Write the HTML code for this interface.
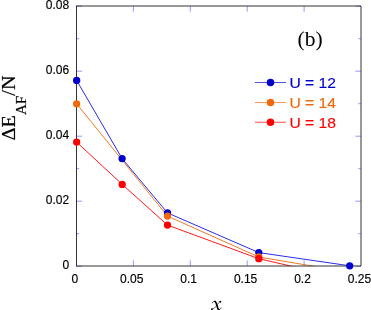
<!DOCTYPE html>
<html><head><meta charset="utf-8"><title>plot</title>
<style>html,body{margin:0;padding:0;background:#fff;}svg{display:block;will-change:transform;}</style>
</head><body>
<svg width="371" height="310" viewBox="0 0 371 310">
<rect x="0" y="0" width="371" height="310" fill="#fff"/>
<path d="M133.40 266.0 v-5.7 M133.40 6.0 v5.7 M190.30 266.0 v-5.7 M190.30 6.0 v5.7 M247.20 266.0 v-5.7 M247.20 6.0 v5.7 M304.10 266.0 v-5.7 M304.10 6.0 v5.7 M76.5 266.20 h5.6 M361.0 266.20 h-5.6 M76.5 233.70 h2.7 M361.0 233.70 h-2.7 M76.5 201.20 h5.6 M361.0 201.20 h-5.6 M76.5 168.70 h2.7 M361.0 168.70 h-2.7 M76.5 136.20 h5.6 M361.0 136.20 h-5.6 M76.5 103.70 h2.7 M361.0 103.70 h-2.7 M76.5 71.20 h5.6 M361.0 71.20 h-5.6 M76.5 38.70 h2.7 M361.0 38.70 h-2.7 M76.5 6.20 h5.6 M361.0 6.20 h-5.6" stroke="#6a6aff" stroke-width="0.7" fill="none"/>
<clipPath id="c"><rect x="76.0" y="6.0" width="285.5" height="260.3"/></clipPath>
<polyline points="76.65,80.4 122.1,158.6 167.5,212.9 258.8,252.6 349.7,265.8" fill="none" stroke="#1414e6" stroke-width="0.9" clip-path="url(#c)"/>
<polyline points="76.65,103.8 167.5,216.1 258.8,257.0 349.7,272.3" fill="none" stroke="#ef6a0c" stroke-width="0.9" clip-path="url(#c)"/>
<polyline points="76.65,142.1 122.2,184.4 167.5,225.1 258.8,258.7 349.7,279.6" fill="none" stroke="#ff0000" stroke-width="0.9" clip-path="url(#c)"/>
<path d="M76.5 6.0 H361.0 V266.0 H76.5" fill="none" stroke="#333" stroke-width="1"/>
<path d="M76.5 5.5 V266.5" fill="none" stroke="#333338" stroke-width="1"/>
<circle cx="76.65" cy="80.4" r="3.65" fill="#0000cc"/><circle cx="122.1" cy="158.6" r="3.65" fill="#0000cc"/><circle cx="167.5" cy="212.9" r="3.65" fill="#0000cc"/><circle cx="258.8" cy="252.6" r="3.65" fill="#0000cc"/><circle cx="349.7" cy="265.8" r="3.65" fill="#0000cc"/>
<circle cx="76.65" cy="103.8" r="3.65" fill="#ef6a0c"/><circle cx="167.5" cy="216.1" r="3.65" fill="#ef6a0c"/><circle cx="258.8" cy="257.0" r="3.65" fill="#ef6a0c"/>
<circle cx="76.65" cy="142.1" r="3.65" fill="#ff0000"/><circle cx="122.2" cy="184.4" r="3.65" fill="#ff0000"/><circle cx="167.5" cy="225.1" r="3.65" fill="#ff0000"/><circle cx="258.8" cy="258.7" r="3.65" fill="#ff0000"/>
<g font-family="Liberation Sans, sans-serif" font-size="12" fill="#000" stroke="#000" stroke-width="0.15">
<text x="74.8" y="282.8" text-anchor="middle">0</text>
<text x="131.8" y="282.8" text-anchor="middle">0.05</text>
<text x="188.7" y="282.8" text-anchor="middle">0.1</text>
<text x="245.6" y="282.8" text-anchor="middle">0.15</text>
<text x="302.5" y="282.8" text-anchor="middle">0.2</text>
<text x="359.4" y="282.8" text-anchor="middle">0.25</text>
<text x="69.2" y="9.0" text-anchor="end">0.08</text>
<text x="69.2" y="73.6" text-anchor="end">0.06</text>
<text x="69.2" y="138.8" text-anchor="end">0.04</text>
<text x="69.2" y="203.8" text-anchor="end">0.02</text>
<text x="69.2" y="268.6" text-anchor="end">0</text>
</g>
<path d="M254.9 82.55 H286" stroke="#0000cc" stroke-width="0.7"/>
<circle cx="270.5" cy="82.55" r="3.75" fill="#0000cc"/>
<text x="289.4" y="88.0" font-family="Liberation Sans, sans-serif" font-size="15.1" fill="#0000cc" stroke="#0000cc" stroke-width="0.15" textLength="46.6" lengthAdjust="spacingAndGlyphs">U = 12</text>
<path d="M254.9 102.55 H286" stroke="#ef6a0c" stroke-width="0.7"/>
<circle cx="270.5" cy="102.55" r="3.75" fill="#ef6a0c"/>
<text x="289.4" y="107.9" font-family="Liberation Sans, sans-serif" font-size="15.1" fill="#ef6a0c" stroke="#ef6a0c" stroke-width="0.15" textLength="46.6" lengthAdjust="spacingAndGlyphs">U = 14</text>
<path d="M254.9 122.25 H286" stroke="#ff0000" stroke-width="0.7"/>
<circle cx="270.5" cy="122.25" r="3.75" fill="#ff0000"/>
<text x="289.4" y="127.7" font-family="Liberation Sans, sans-serif" font-size="15.1" fill="#ff0000" stroke="#ff0000" stroke-width="0.15" textLength="46.6" lengthAdjust="spacingAndGlyphs">U = 18</text>
<text x="297.5" y="45.5" font-family="Liberation Serif, serif" font-size="21.5" fill="#000">(b)</text>
<g fill="none" stroke="#000" stroke-linecap="round"><path d="M212.3 302.9 C212.9 301.6 214.3 300.9 215.3 301.5" stroke-width="0.7"/><path d="M215.0 301.4 C216.4 302.4 216.8 304.8 217.4 307.0 C217.8 308.6 218.2 309.6 219.0 309.9" stroke-width="1.7"/><path d="M218.8 309.9 C219.8 310.0 220.6 308.9 221.1 307.9" stroke-width="0.7"/><path d="M220.2 301.7 C218.9 301.9 218.0 303.4 216.9 305.0 C215.4 307.2 214.0 309.0 212.2 309.3" stroke-width="0.65"/></g><circle cx="220.3" cy="301.7" r="0.95" fill="#000"/><circle cx="211.9" cy="309.1" r="0.95" fill="#000"/>
<g transform="translate(14.9 140.4) rotate(-90) scale(1.04 1)" font-family="Liberation Serif, serif" fill="#000" stroke="#000" stroke-width="0.2"><text x="0" y="0" font-size="19.4">ΔE<tspan font-size="14.6" dy="10.8">AF</tspan><tspan dy="-10.8">/N</tspan></text></g>
</svg>
</body></html>
